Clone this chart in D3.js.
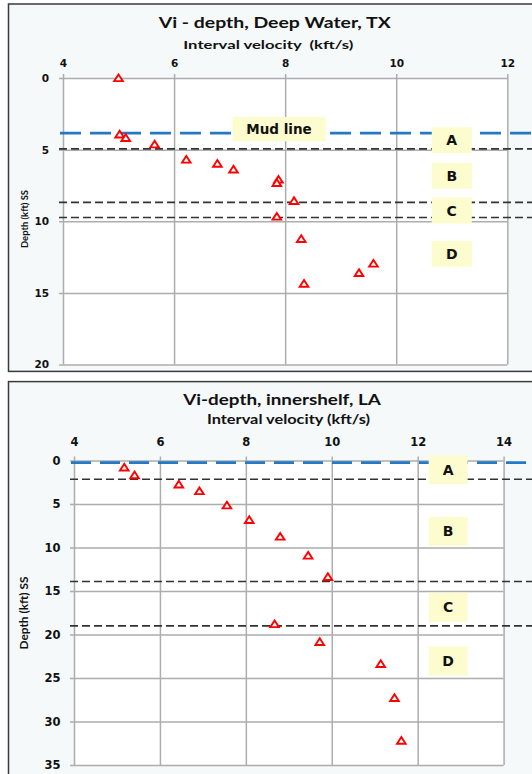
<!DOCTYPE html>
<html>
<head>
<meta charset="utf-8">
<script src="https://cdn.jsdelivr.net/npm/d3@7"></script>
<style>
  body { margin: 0; background: #fff; }
  svg { display: block; }
</style>
</head>
<body>
<script>
//////////////////////////////////////////////////////////////
/////////////////////////// Data /////////////////////////////
//////////////////////////////////////////////////////////////

// Deep Water, TX
var deepVelocity = [5.0, 5.02, 5.13, 5.65, 6.22, 6.78, 7.07, 7.88, 7.85, 8.16, 7.85, 8.29, 8.34, 9.33, 9.59];
var deepDepth    = [0.0, 3.94, 4.18, 4.63, 5.69, 5.98, 6.38, 7.09, 7.32, 8.58, 9.67, 11.23, 14.36, 13.61, 12.95];
var deepXTicks = [4, 6, 8, 10, 12];
var deepYTicks = [0, 5, 10, 15, 20];
var deepMudLine = 3.85;
var deepHorizons = [4.95, 8.68, 9.74];

// innershelf, LA
var shelfVelocity = [5.17, 5.41, 6.44, 6.92, 7.56, 8.08, 8.8, 9.45, 9.91, 8.67, 9.72, 11.14, 11.46, 11.62];
var shelfDepth    = [0.78, 1.68, 2.74, 3.5, 5.14, 6.82, 8.73, 10.91, 13.37, 18.79, 20.85, 23.38, 27.29, 32.2];
var shelfXTicks = [4, 6, 8, 10, 12, 14];
var shelfYTicks = [0, 5, 10, 15, 20, 25, 30, 35];
var shelfMudLine = 0.23;
var shelfHorizons = [2.15, 13.9, 19];

var zoneNames = ["A", "B", "C", "D"];

//////////////////////////////////////////////////////////////
///////////////////// General settings ///////////////////////
//////////////////////////////////////////////////////////////

var width = 532, height = 774;
var titleFont = "Lato, 'Open Sans', sans-serif";
var tickFont = "'DejaVu Sans', Verdana, sans-serif";

var svg = d3.select("body").append("svg")
    .attr("width", width)
    .attr("height", height);

var panels = [
  {
    title: "Vi - depth, Deep Water, TX",
    xTitle: "Interval velocity  (kft/s)",
    frame: [4, 371.4],
    xRange: [63, 507.3], yRange: [78, 364.5],
    xTicks: deepXTicks, yTicks: deepYTicks,
    velocity: deepVelocity, depth: deepDepth,
    mud: deepMudLine, horizons: deepHorizons,
    titleY: 27.8, titleSize: 16, titleX: 274.7, titleLen: 232,
    xTitleY: 48.5, xTitleSize: 12, xTitleX: 268.3, xTitleLen: 170,
    tickSize: 10.5, xPad: 7.2, yPad: 10,
    yTitleX: 25, yTitleY: 219, yTitleSize: 9.5, yTitleLen: 58,
    blueDash: "21,9", blackDash: "8,4",
    zoneV: 11.0, zoneD: [4.34, 6.83, 9.25, 12.28], zoneW: 40, zoneH: 26,
    mudLabel: [7.89, 3.57]
  },
  {
    title: "Vi-depth, innershelf, LA",
    xTitle: "Interval velocity (kft/s)",
    frame: [381.6, 800],
    xRange: [74, 503.6], yRange: [460.6, 765],
    xTicks: shelfXTicks, yTicks: shelfYTicks,
    velocity: shelfVelocity, depth: shelfDepth,
    mud: shelfMudLine, horizons: shelfHorizons,
    titleY: 405, titleSize: 15.5, titleX: 282, titleLen: 197.5,
    xTitleY: 424.3, xTitleSize: 13, xTitleX: 288.5, xTitleLen: 163,
    tickSize: 11.5, xPad: 10.3, yPad: 9.6,
    yTitleX: 23.5, yTitleY: 613, yTitleSize: 12, yTitleLen: 73,
    blueDash: "20,9", blackDash: "8,4",
    zoneV: 12.71, zoneD: [1.06, 8.13, 16.87, 23.04], zoneW: 39, zoneH: 29,
    mudLabel: null
  }
];

panels.forEach(drawPanel);

//////////////////////////////////////////////////////////////
////////////////////////// Panel /////////////////////////////
//////////////////////////////////////////////////////////////

function drawPanel(p) {
  var g = svg.append("g");

  var xScale = d3.scaleLinear().domain(d3.extent(p.xTicks)).range(p.xRange);
  var yScale = d3.scaleLinear().domain(d3.extent(p.yTicks)).range(p.yRange);
  var x0 = p.xRange[0], x1 = p.xRange[1];
  var y0 = p.yRange[0], y1 = p.yRange[1];

  //Frame
  g.append("rect")
      .attr("x", 8.5)
      .attr("y", p.frame[0])
      .attr("width", 600)
      .attr("height", p.frame[1] - p.frame[0])
      .attr("fill", "#f5f9fa")
      .attr("stroke", "#3a3a3a")
      .attr("stroke-width", 1.5);

  //Plot area
  g.append("rect")
      .attr("x", x0).attr("y", y0)
      .attr("width", x1 - x0).attr("height", y1 - y0)
      .attr("fill", "#fff");

  //Top axis + vertical grid
  var xAxis = d3.axisTop(xScale)
      .tickValues(p.xTicks)
      .tickFormat(d3.format("d"))
      .tickSizeInner(-(y1 - y0 + 4))
      .tickSizeOuter(0)
      .tickPadding(p.xPad);

  var gx = g.append("g")
      .attr("transform", "translate(0," + (y0 - 4) + ")")
      .call(xAxis);

  //Left axis + horizontal grid
  var yAxis = d3.axisLeft(yScale)
      .tickValues(p.yTicks)
      .tickFormat(d3.format("d"))
      .tickSizeInner(-(x1 - x0 + 4))
      .tickSizeOuter(0)
      .tickPadding(p.yPad);

  var gy = g.append("g")
      .attr("transform", "translate(" + (x0 - 4) + ",0)")
      .call(yAxis);

  [gx, gy].forEach(function(a) {
    a.select(".domain").remove();
    a.selectAll(".tick line")
        .attr("stroke", "#adadad")
        .attr("stroke-width", 1.5);
    a.selectAll(".tick text")
        .attr("fill", "#111")
        .style("font-family", tickFont)
        .style("font-weight", "bold")
        .style("font-size", p.tickSize + "px");
  });

  //Horizon lines (black dashed)
  g.selectAll(".horizon")
      .data(p.horizons).enter()
      .append("line")
        .attr("class", "horizon")
        .attr("x1", x0 - 4)
        .attr("x2", 560)
        .attr("y1", function(d) { return yScale(d); })
        .attr("y2", function(d) { return yScale(d); })
        .attr("stroke", "#333")
        .attr("stroke-width", 1.6)
        .attr("stroke-dasharray", p.blackDash);

  //Mud line (blue dashed)
  g.append("line")
      .attr("x1", x0 - 3)
      .attr("x2", 560)
      .attr("y1", yScale(p.mud))
      .attr("y2", yScale(p.mud))
      .attr("stroke", "#2479c6")
      .attr("stroke-width", 2.6)
      .attr("stroke-dasharray", p.blueDash);

  //Zone labels
  var zones = g.selectAll(".zone")
      .data(zoneNames).enter()
      .append("g")
        .attr("class", "zone")
        .attr("transform", function(d, i) {
          return "translate(" + xScale(p.zoneV) + "," + yScale(p.zoneD[i]) + ")";
        });

  zones.append("rect")
      .attr("x", -p.zoneW / 2)
      .attr("y", -p.zoneH / 2)
      .attr("width", p.zoneW)
      .attr("height", p.zoneH)
      .attr("fill", "#fdfcce");

  zones.append("text")
      .attr("text-anchor", "middle")
      .attr("dy", "0.36em")
      .style("font-family", tickFont)
      .style("font-weight", "bold")
      .style("font-size", "14px")
      .attr("fill", "#111")
      .text(function(d) { return d; });

  if (p.mudLabel) {
    var mud = g.append("g")
        .attr("transform", "translate(" + xScale(p.mudLabel[0]) + "," + yScale(p.mudLabel[1]) + ")");
    mud.append("rect")
        .attr("x", -46.5).attr("y", -12.2)
        .attr("width", 93).attr("height", 24.4)
        .attr("fill", "#fdfcce");
    mud.append("text")
        .attr("text-anchor", "middle")
        .attr("dy", "0.36em")
        .style("font-family", tickFont)
        .style("font-weight", "bold")
        .style("font-size", "13.5px")
        .attr("fill", "#111")
        .text("Mud line");
  }

  //Points (open red triangles)
  var pts = p.velocity.map(function(v, i) { return {v: v, d: p.depth[i]}; });
  g.selectAll(".pt")
      .data(pts).enter()
      .append("path")
        .attr("class", "pt")
        .attr("d", "M0,-3.6L4.3,3.1L-4.3,3.1Z")
        .attr("transform", function(d) {
          return "translate(" + xScale(d.v) + "," + yScale(d.d) + ")";
        })
        .attr("fill", "#fff")
        .attr("stroke", "#ff0000")
        .attr("stroke-width", 1.9);

  //Titles
  g.append("text")
      .attr("x", p.titleX)
      .attr("y", p.titleY)
      .attr("text-anchor", "middle")
      .attr("textLength", p.titleLen)
      .attr("lengthAdjust", "spacingAndGlyphs")
      .style("font-family", titleFont)
      .style("font-weight", "bold")
      .style("font-size", p.titleSize + "px")
      .attr("fill", "#111")
      .text(p.title);

  g.append("text")
      .attr("x", p.xTitleX)
      .attr("y", p.xTitleY)
      .attr("text-anchor", "middle")
      .attr("textLength", p.xTitleLen)
      .attr("lengthAdjust", "spacingAndGlyphs")
      .style("font-family", titleFont)
      .style("font-weight", "bold")
      .style("font-size", p.xTitleSize + "px")
      .style("white-space", "pre")
      .attr("fill", "#111")
      .text(p.xTitle);

  g.append("text")
      .attr("transform", "translate(" + p.yTitleX + "," + p.yTitleY + ") rotate(-90)")
      .attr("text-anchor", "middle")
      .attr("dy", "0.35em")
      .attr("textLength", p.yTitleLen)
      .attr("lengthAdjust", "spacingAndGlyphs")
      .style("font-family", titleFont)
      .style("font-weight", "bold")
      .style("font-size", p.yTitleSize + "px")
      .attr("fill", "#111")
      .text("Depth (kft) SS");
}
</script>
</body>
</html>
